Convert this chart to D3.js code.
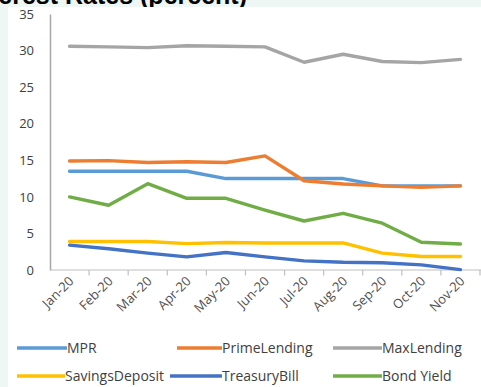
<!DOCTYPE html>
<html>
<head>
<meta charset="utf-8">
<script src="https://cdn.jsdelivr.net/npm/d3@7/dist/d3.min.js"></script>
<style>
  html, body { margin: 0; padding: 0; background: #eef7f4; }
  svg { display: block; }
</style>
</head>
<body>
<svg id="chart" width="481" height="387"></svg>
<script>
// Monthly rates, 2020 (percent)
const months = ["Jan-20","Feb-20","Mar-20","Apr-20","May-20","Jun-20","Jul-20","Aug-20","Sep-20","Oct-20","Nov-20"];
const mpr            = [13.5, 13.5, 13.5, 13.5, 12.5, 12.5, 12.5, 12.5, 11.5, 11.5, 11.5];
const primeLending   = [14.9, 14.95, 14.7, 14.8, 14.7, 15.6, 12.2, 11.75, 11.5, 11.3, 11.5];
const maxLending     = [30.6, 30.5, 30.4, 30.65, 30.6, 30.5, 28.4, 29.5, 28.5, 28.35, 28.8];
const savingsDeposit = [3.9, 3.9, 3.9, 3.6, 3.75, 3.7, 3.7, 3.7, 2.3, 1.85, 1.85];
const treasuryBill   = [3.4, 2.9, 2.3, 1.8, 2.4, 1.8, 1.25, 1.05, 1.0, 0.7, 0.05];
const bondYield      = [10.0, 8.85, 11.8, 9.8, 9.8, 8.2, 6.7, 7.75, 6.4, 3.8, 3.55];
const yTicks = [0, 5, 10, 15, 20, 25, 30, 35];

const series = [
  { name: "MPR",            values: mpr,            color: "#5b9bd5" },
  { name: "PrimeLending",   values: primeLending,   color: "#ed7d31" },
  { name: "MaxLending",     values: maxLending,     color: "#a5a5a5" },
  { name: "SavingsDeposit", values: savingsDeposit, color: "#ffc000" },
  { name: "TreasuryBill",   values: treasuryBill,   color: "#4472c4" },
  { name: "Bond Yield",     values: bondYield,      color: "#70ad47" }
];

const svg = d3.select("#chart");
const font = "'Open Sans', sans-serif";

// title strip along the top edge; the heading runs off the top
svg.append("clipPath").attr("id", "titleClip")
  .append("rect").attr("x", 0).attr("y", 0).attr("width", 481).attr("height", 7);
svg.append("text")
  .attr("clip-path", "url(#titleClip)")
  .attr("x", 247).attr("y", 4)
  .attr("text-anchor", "end")
  .attr("font-family", "'Liberation Sans', Arial, sans-serif")
  .attr("font-weight", "bold")
  .attr("font-size", 25)
  .attr("fill", "#000")
  .text("Interest Rates (percent)");

// white chart panel
svg.append("rect").attr("x", 8).attr("y", 7).attr("width", 473).attr("height", 380).attr("fill", "#ffffff");

const x = d3.scaleBand().domain(months).range([50, 480]);
const y = d3.scaleLinear().domain([0, 35]).range([270, 14]);

// y axis: line and labels, no ticks
const yAxis = svg.append("g").attr("transform", "translate(50,0)")
  .call(d3.axisLeft(y).tickValues(yTicks).tickSize(0).tickPadding(16));
yAxis.select(".domain").attr("stroke", "#a6a6a6").attr("stroke-width", 1.5);
yAxis.selectAll("text").attr("font-family", font).attr("font-size", 13).attr("fill", "#404040");

// x axis: baseline with ticks at band boundaries
const xAxisG = svg.append("g");
xAxisG.append("line").attr("x1", 50).attr("x2", 481).attr("y1", 270).attr("y2", 270)
  .attr("stroke", "#bfbfbf").attr("stroke-width", 1.2);
xAxisG.selectAll("line.tick").data(months.map(m => x(m) + x.bandwidth())).join("line")
  .attr("class", "tick")
  .attr("x1", d => d).attr("x2", d => d).attr("y1", 270).attr("y2", 275.5)
  .attr("stroke", "#bfbfbf").attr("stroke-width", 1.2);
xAxisG.selectAll("text").data(months).join("text")
  .attr("transform", d => `translate(${x(d) + x.bandwidth() / 2 + 5},${282}) rotate(-45)`)
  .attr("text-anchor", "end")
  .attr("font-family", font).attr("font-size", 13).attr("fill", "#505050")
  .text(d => d);

// series lines
const line = d3.line()
  .x((d, i) => x(months[i]) + x.bandwidth() / 2)
  .y(d => y(d));

svg.append("g").selectAll("path").data(series).join("path")
  .attr("d", s => line(s.values))
  .attr("fill", "none")
  .attr("stroke", s => s.color)
  .attr("stroke-width", 3.4)
  .attr("stroke-linejoin", "round")
  .attr("stroke-linecap", "round");

// legend, two rows of three
const legendPos = [
  { lx: 17, tx: 67, ty: 348 },
  { lx: 177, tx: 222, ty: 348 },
  { lx: 333, tx: 382, ty: 348 },
  { lx: 17, tx: 65, ty: 376 },
  { lx: 170, tx: 222, ty: 376 },
  { lx: 333, tx: 382, ty: 376 }
];
const legend = svg.append("g").selectAll("g").data(series).join("g");
legend.append("line")
  .attr("x1", (d, i) => legendPos[i].lx).attr("x2", (d, i) => legendPos[i].tx)
  .attr("y1", (d, i) => legendPos[i].ty).attr("y2", (d, i) => legendPos[i].ty)
  .attr("stroke", d => d.color).attr("stroke-width", 3.4);
legend.append("text")
  .attr("x", (d, i) => legendPos[i].tx)
  .attr("y", (d, i) => legendPos[i].ty + 5)
  .attr("font-family", font).attr("font-size", 14).attr("fill", "#404040")
  .text(d => d.name);
</script>
</body>
</html>
